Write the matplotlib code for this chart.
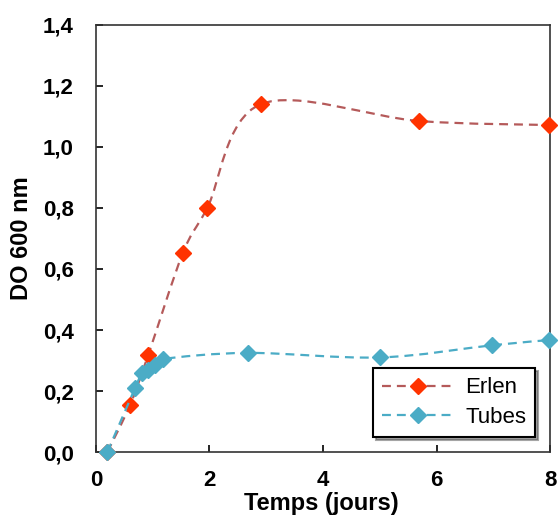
import matplotlib
matplotlib.use("Agg")
import matplotlib.pyplot as plt
import numpy as np
from matplotlib.path import Path
from matplotlib.patches import PathPatch
from matplotlib.lines import Line2D

plt.rcParams['font.family'] = ['Liberation Sans', 'DejaVu Sans']

# Data
erlen_x = [0.2, 0.6, 0.92, 1.53, 1.96, 2.9, 5.7, 7.98]
erlen_y = [0.0, 0.154, 0.318, 0.652, 0.80, 1.14, 1.085, 1.072]
tubes_x = [0.2, 0.69, 0.81, 0.92, 1.04, 1.18, 2.68, 5.0, 6.98, 7.98]
tubes_y = [0.0, 0.21, 0.26, 0.27, 0.285, 0.305, 0.325, 0.31, 0.35, 0.367]
series_names = ["Erlen", "Tubes"]
x_ticks = [0, 2, 4, 6, 8]
y_ticks = [0.0, 0.2, 0.4, 0.6, 0.8, 1.0, 1.2, 1.4]
y_ticklabels = ["0,0", "0,2", "0,4", "0,6", "0,8", "1,0", "1,2", "1,4"]
x_label = "Temps (jours)"
y_label = "DO 600 nm"

erlen_marker = "#ff3300"
erlen_line = "#b55a5a"
tubes_color = "#4bacc6"


def smooth_path(xs, ys):
    P = np.column_stack([xs, ys]).astype(float)
    n = len(P)
    verts = [P[0]]
    codes = [Path.MOVETO]
    for i in range(n - 1):
        p0 = P[i - 1] if i > 0 else P[i]
        p1 = P[i]
        p2 = P[i + 1]
        p3 = P[i + 2] if i + 2 < n else P[i + 1]
        b1 = p1 + (p2 - p0) / 6.0
        b2 = p2 - (p3 - p1) / 6.0
        verts += [b1, b2, p2]
        codes += [Path.CURVE4] * 3
    return Path(verts, codes)


fig = plt.figure(figsize=(5.58, 5.15), dpi=100)
ax = fig.add_axes([0.172, 0.1223, 0.8137, 0.8292])

dash = (0, (4, 2.7))
lw = 1.6
ms = 8

for xs, ys, lc, mc, z in [(erlen_x, erlen_y, erlen_line, erlen_marker, 2),
                           (tubes_x, tubes_y, tubes_color, tubes_color, 4)]:
    patch = PathPatch(smooth_path(xs, ys), facecolor='none', edgecolor=lc,
                      linewidth=lw, linestyle=dash, zorder=z, clip_on=False)
    ax.add_patch(patch)
    ax.plot(xs, ys, ls='none', marker='D', markersize=ms, color=mc,
            markeredgecolor=mc, zorder=z + 1, clip_on=False)

ax.set_xlim(0, 8)
ax.set_ylim(0, 1.4)
ax.set_xticks(x_ticks)
ax.set_xticklabels([str(v) for v in x_ticks])
ax.set_yticks(y_ticks)
ax.set_yticklabels(y_ticklabels)
ax.tick_params(direction='in', length=5, width=1.2, labelsize=16,
               top=False, right=False)
ax.tick_params(axis='y', pad=16)
ax.tick_params(axis='x', pad=13)
for lab in ax.get_xticklabels() + ax.get_yticklabels():
    lab.set_fontweight('bold')
for s in ax.spines.values():
    s.set_linewidth(1.2)
    s.set_color('#333333')

ax.set_xlabel(x_label, fontsize=17, fontweight='bold')
ax.xaxis.set_label_coords(0.497, -0.094)
ax.set_ylabel(y_label, fontsize=17, fontweight='bold')
ax.yaxis.set_label_coords(-0.139, 0.5)

handles = [
    Line2D([], [], color=erlen_line, linestyle=dash, linewidth=lw, marker='D',
           markersize=ms, markerfacecolor=erlen_marker, markeredgecolor=erlen_marker),
    Line2D([], [], color=tubes_color, linestyle=dash, linewidth=lw, marker='D',
           markersize=ms, markerfacecolor=tubes_color, markeredgecolor=tubes_color),
]
leg = ax.legend(handles, series_names, loc='lower right',
                bbox_to_anchor=(0.967, 0.035), borderaxespad=0,
                fontsize=16, frameon=True, fancybox=False, shadow=True,
                handlelength=3.3, handletextpad=0.45, labelspacing=0.4,
                borderpad=0.4)
leg.get_frame().set_edgecolor('black')
leg.get_frame().set_linewidth(1.5)
leg.set_zorder(10)

fig.savefig("out.png", dpi=100)
